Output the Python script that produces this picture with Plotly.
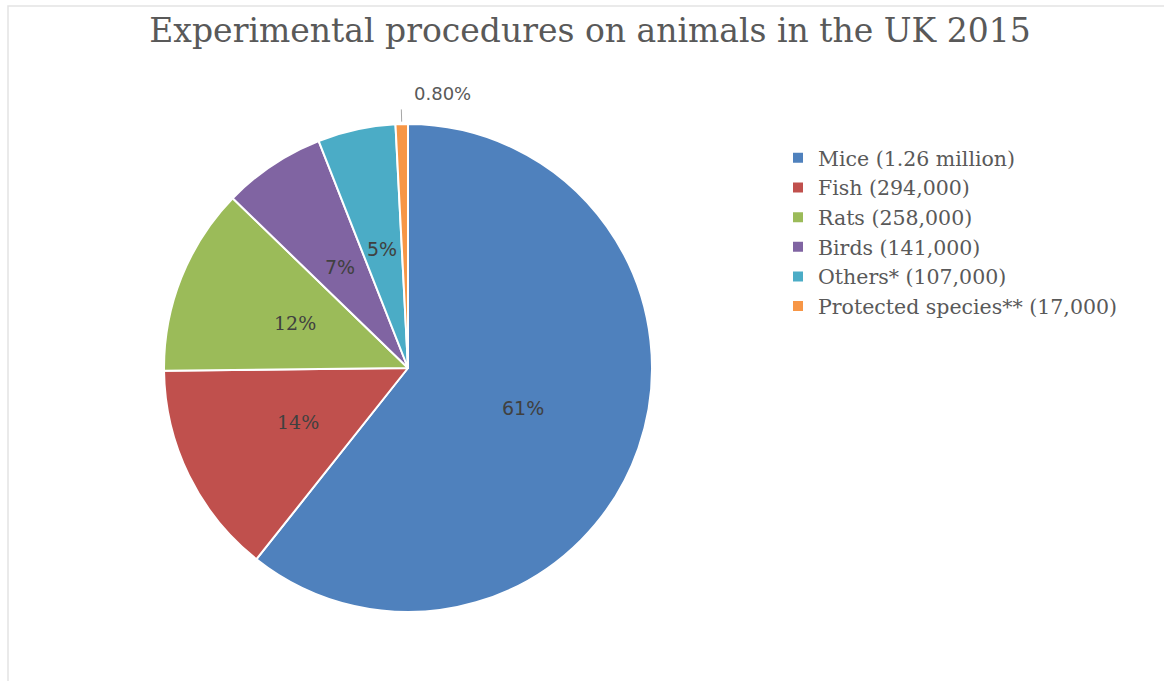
import math
import plotly.graph_objects as go

W, H = 1164, 681

categories = ["Mice (1.26 million)", "Fish (294,000)", "Rats (258,000)",
              "Birds (141,000)", "Others* (107,000)", "Protected species** (17,000)"]
values = [1260000, 294000, 258000, 141000, 107000, 17000]
pct_labels = ["61%", "14%", "12%", "7%", "5%", "0.80%"]
colors = ["#4F81BD", "#C0504D", "#9BBB59", "#8064A2", "#4BACC6", "#F79646"]
label_fonts = ["DejaVu Sans", "DejaVu Serif", "DejaVu Serif", "DejaVu Sans", "DejaVu Sans", "DejaVu Sans"]

# pie domain in pixels
cx, cy, r = 408, 368, 244
dom_x = [(cx - r) / W, (cx + r) / W]
dom_y = [1 - (cy + r) / H, 1 - (cy - r) / H]

fig = go.Figure(go.Pie(
    labels=categories,
    values=values,
    textinfo="none",
    sort=False,
    direction="clockwise",
    rotation=0,
    marker=dict(colors=colors, line=dict(color="white", width=2)),
    domain=dict(x=dom_x, y=dom_y),
    hoverinfo="label+percent",
))

# data labels placed at each slice's mid-angle (computed from the values)
total = sum(values)
cum = 0.0
for i, v in enumerate(values):
    mid = (cum + v / 2) / total * 2 * math.pi  # clockwise from 12 o'clock
    cum += v
    if i < len(values) - 1:
        lx = cx + 0.5 * r * math.sin(mid)
        ly = cy - 0.5 * r * math.cos(mid)
        fig.add_annotation(x=lx / W, y=1 - ly / H, xref="paper", yref="paper",
                           text=pct_labels[i], showarrow=False,
                           xanchor="center", yanchor="middle",
                           font=dict(family=label_fonts[i], size=19, color="#404040"))
    else:
        x0 = cx + r * 1.01 * math.sin(mid)
        y0 = cy - r * 1.01 * math.cos(mid)
        x1 = cx + r * 1.06 * math.sin(mid)
        y1 = cy - r * 1.06 * math.cos(mid)
        fig.add_shape(type="line", xref="paper", yref="paper",
                      x0=x0 / W, y0=1 - y0 / H, x1=x1 / W, y1=1 - y1 / H,
                      line=dict(color="#a6a6a6", width=1))
        fig.add_annotation(x=(x1 + 11) / W, y=1 - (y1 - 3) / H, xref="paper", yref="paper",
                           text=pct_labels[i], showarrow=False,
                           xanchor="left", yanchor="bottom",
                           font=dict(family=label_fonts[i], size=18, color="#595959"))

# faint frame
fig.add_shape(type="rect", xref="paper", yref="paper",
              x0=8 / W, x1=1.05, y0=-0.05, y1=1 - 6 / H,
              line=dict(color="#e3e3e3", width=1.5), layer="below")

fig.update_layout(
    width=W, height=H,
    margin=dict(l=0, r=0, t=0, b=0),
    paper_bgcolor="white",
    plot_bgcolor="white",
    title=dict(text="Experimental procedures on animals in the UK 2015",
               x=590 / W, xanchor="center", y=1 - 30 / H, yanchor="middle",
               font=dict(family="DejaVu Serif", size=33, color="#595959")),
    legend=dict(x=778 / W, y=1 - 138 / H, xanchor="left", yanchor="top",
                font=dict(family="DejaVu Serif", size=20.5, color="#595959"),
                bgcolor="rgba(0,0,0,0)", itemwidth=30),
    showlegend=True,
)

fig.write_html("out.html", config={"displayModeBar": False},
               post_script="document.body.style.margin='0';")
